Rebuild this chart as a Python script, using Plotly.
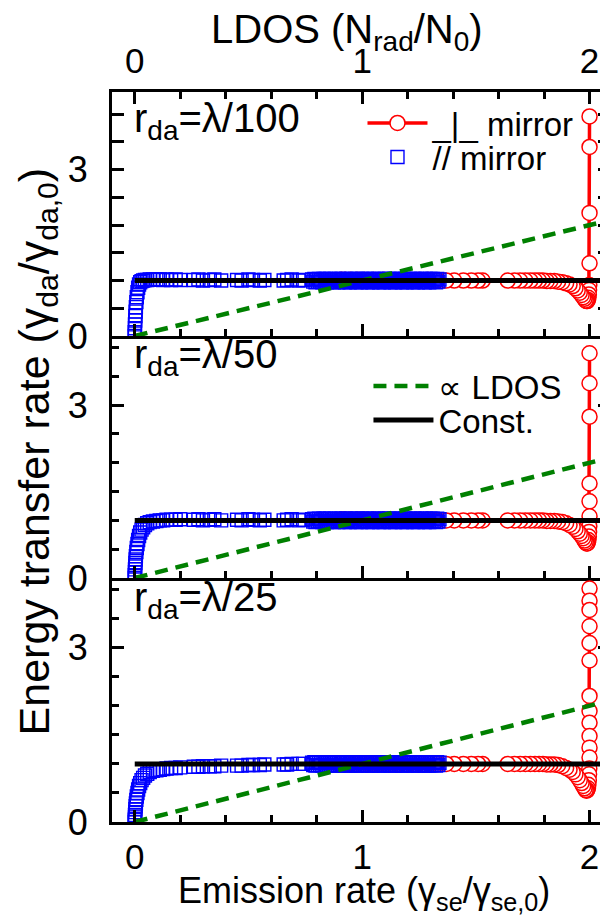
import plotly.graph_objects as go

FONT = "Liberation Sans, Arial, sans-serif"

# ---------------- data ----------------
# Emission rate of the donor (x) for the parallel ("//") mirror orientation
blue_x_near = [0.000, 0.000, 0.001, 0.001, 0.002, 0.003, 0.004, 0.005, 0.007, 0.009,
               0.012, 0.015, 0.019, 0.024, 0.030, 0.037, 0.045, 0.055, 0.066, 0.080,
               0.095, 0.110, 0.125, 0.140, 0.160, 0.180, 0.200,
               0.260, 0.280, 0.300, 0.330, 0.350, 0.380,
               0.450, 0.470, 0.500, 0.520, 0.550, 0.570,
               0.655, 0.670, 0.690, 0.720, 0.740]
blue_y_near_100 = [0.00, 0.07, 0.14, 0.21, 0.28, 0.36, 0.44, 0.52, 0.61, 0.70,
                   0.79, 0.87, 0.93, 0.97, 0.99, 1.00, 1.01, 1.01, 1.02, 1.02,
                   1.02, 1.02, 1.01, 1.02, 1.01, 1.02, 1.01,
                   1.01, 1.02, 1.00, 1.01, 1.02, 1.00,
                   1.01, 1.00, 1.02, 1.01, 1.00, 1.01,
                   1.00, 1.01, 1.02, 1.00, 1.01]
blue_y_near_50 = [0.00, 0.05, 0.10, 0.15, 0.20, 0.26, 0.32, 0.38, 0.45, 0.52,
                  0.59, 0.66, 0.73, 0.79, 0.84, 0.88, 0.92, 0.95, 0.97, 0.98,
                  0.99, 1.00, 1.00, 1.01, 1.01, 1.01, 1.02,
                  1.01, 1.02, 1.00, 1.01, 1.02, 1.00,
                  1.01, 1.00, 1.02, 1.01, 1.00, 1.01,
                  1.00, 1.01, 1.02, 1.00, 1.01]
blue_y_near_25 = [0.00, 0.04, 0.08, 0.12, 0.17, 0.22, 0.27, 0.32, 0.38, 0.44,
                  0.50, 0.56, 0.62, 0.67, 0.72, 0.76, 0.80, 0.83, 0.86, 0.88,
                  0.89, 0.90, 0.91, 0.92, 0.93, 0.93, 0.94,
                  0.95, 0.95, 0.96, 0.96, 0.96, 0.97,
                  0.97, 0.97, 0.98, 0.98, 0.98, 0.99,
                  0.99, 0.99, 1.00, 1.00, 1.00]
blue_x_dense = [0.78, 0.79, 0.80, 0.81, 0.82, 0.83, 0.84, 0.85, 0.86, 0.87,
                0.88, 0.89, 0.90, 0.91, 0.92, 0.93, 0.94, 0.95, 0.96, 0.97,
                0.98, 0.99, 1.00, 1.01, 1.02, 1.03, 1.04, 1.05, 1.06, 1.07,
                1.08, 1.09, 1.10, 1.11, 1.12, 1.13, 1.14, 1.15, 1.16, 1.17,
                1.18, 1.19, 1.20, 1.21, 1.22, 1.23, 1.24, 1.25, 1.26, 1.27,
                1.28, 1.29, 1.30, 1.31, 1.32, 1.33, 1.34,
                1.335, 1.325, 1.315, 1.305, 1.295, 1.285, 1.275, 1.265, 1.255, 1.245,
                1.235, 1.225, 1.215, 1.205, 1.195, 1.185, 1.175, 1.165, 1.155, 1.145,
                1.135, 1.125, 1.115, 1.105, 1.095, 1.085, 1.075, 1.065, 1.055, 1.045,
                1.035, 1.025, 1.015, 1.005, 0.995, 0.985, 0.975, 0.965, 0.955, 0.945,
                0.935, 0.925, 0.915, 0.905, 0.895, 0.885, 0.875, 0.865, 0.855, 0.845,
                0.835, 0.825, 0.815, 0.805, 0.795, 0.785]
blue_y_dense = [1.02, 1.03, 1.02, 1.03, 1.02, 1.03, 1.03, 1.02, 1.03, 1.02,
                1.03, 1.02, 1.03, 1.03, 1.02, 1.03, 1.02, 1.03, 1.02, 1.03,
                1.03, 1.02, 1.03, 1.02, 1.03, 1.03, 1.02, 1.03, 1.02, 1.03,
                1.02, 1.03, 1.03, 1.02, 1.03, 1.02, 1.03, 1.02, 1.03, 1.03,
                1.02, 1.03, 1.02, 1.03, 1.02, 1.03, 1.03, 1.02, 1.03, 1.02,
                1.03, 1.02, 1.03, 1.03, 1.02, 1.03, 1.02,
                0.98, 0.97, 0.98, 0.98, 0.97, 0.98, 0.97, 0.98, 0.98, 0.97,
                0.98, 0.97, 0.98, 0.98, 0.97, 0.98, 0.97, 0.98, 0.98, 0.97,
                0.98, 0.97, 0.98, 0.98, 0.97, 0.98, 0.97, 0.98, 0.98, 0.97,
                0.98, 0.97, 0.98, 0.98, 0.97, 0.98, 0.97, 0.98, 0.98, 0.97,
                0.98, 0.97, 0.98, 0.98, 0.97, 0.98, 0.97, 0.98, 0.98, 0.97,
                0.98, 0.97, 0.98, 0.98, 0.97, 0.98]

# Perpendicular ("_|_") mirror orientation: spike at the mirror, then the tail
red_spike_y_100 = [3.96, 3.41, 2.22, 1.31]
red_spike_x_100 = [2.000, 2.000, 2.000, 2.000]
red_spike_y_50 = [3.90, 3.38, 2.80, 1.64, 1.33, 1.07]
red_spike_x_50 = [2.000, 2.000, 2.000, 2.000, 2.000, 2.000]
red_spike_y_25 = [4.02, 3.81, 3.65, 3.37, 3.08, 2.78, 2.17, 1.91, 1.71, 1.48, 1.28, 1.11]
red_spike_x_25 = [2.000, 2.000, 2.000, 2.000, 2.000, 2.000, 2.000, 2.000, 2.000, 2.000, 2.000, 2.000]

red_dip_x = [1.999, 1.998, 1.997, 1.995, 1.993, 1.990, 1.987, 1.983, 1.978, 1.972,
             1.965, 1.957, 1.948, 1.938, 1.926, 1.912, 1.897, 1.880]
red_dip_y_100 = [0.92, 0.83, 0.75, 0.69, 0.65, 0.63, 0.63, 0.64, 0.67, 0.70,
                 0.74, 0.78, 0.82, 0.86, 0.90, 0.93, 0.95, 0.97]
red_dip_y_50 = [0.90, 0.80, 0.72, 0.66, 0.62, 0.60, 0.60, 0.62, 0.65, 0.69,
                0.73, 0.77, 0.81, 0.85, 0.89, 0.92, 0.95, 0.97]
red_dip_y_25 = [0.92, 0.82, 0.72, 0.64, 0.58, 0.55, 0.54, 0.55, 0.58, 0.62,
                0.67, 0.72, 0.77, 0.82, 0.86, 0.90, 0.93, 0.96]

red_rest_x = [1.862, 1.845, 1.828, 1.812, 1.795, 1.778, 1.760, 1.740, 1.718, 1.695,
              1.670, 1.640, 1.530, 1.510, 1.480, 1.445, 1.405,
              1.370, 1.330, 1.290, 1.250, 1.210, 1.170, 1.130, 1.090, 1.050, 1.010,
              0.975, 0.945, 0.925, 0.912, 0.905, 0.910, 0.925, 0.950, 0.985, 1.025,
              1.065, 1.100, 1.130, 1.150, 1.160, 1.155, 1.135, 1.105, 1.070, 1.035,
              1.005, 0.980, 0.965, 0.960, 0.965, 0.980, 1.000, 1.020, 1.040, 1.050,
              1.052, 1.045, 1.030, 1.015, 1.000]
red_rest_y = [0.98, 0.99, 0.99, 0.99, 1.00, 1.00, 1.00, 1.00, 1.00, 1.00,
              1.00, 1.00, 1.00, 1.00, 1.00, 1.00, 1.00,
              1.00, 1.00, 1.01, 1.01, 1.01, 1.01, 1.01, 1.01, 1.01, 1.01,
              1.01, 1.01, 1.01, 1.01, 1.01, 1.01, 1.01, 1.01, 1.01, 1.00,
              1.00, 1.00, 1.00, 1.00, 1.00, 1.00, 1.00, 1.00, 1.00, 1.00,
              1.00, 1.00, 1.00, 1.00, 1.00, 1.00, 1.00, 1.00, 1.00, 1.00,
              1.00, 1.00, 1.00, 1.00, 1.00]

ldos_x = [0.0, 2.1]
ldos_y = [0.0, 2.1]
const_x = [0.0, 2.1]
const_y = [1.0, 1.0]

panel_labels = ["r<sub>da</sub>=λ/100", "r<sub>da</sub>=λ/50", "r<sub>da</sub>=λ/25"]
x_ticks = [0, 1, 2]
y_ticks = [0, 3]
y_ranges = [[0, 4.4], [0, 4.2], [0, 4.2]]

# ---------------- layout geometry ----------------
W, H = 608, 916
L, R, T, B = 104, 605, 84, 814
SEP1, SEP2 = 328, 570


def px(xp):
    return (xp - L) / (R - L)


def py(yp):
    return (B - yp) / (B - T)


RED = "#ff0000"
BLUE = "#0000ff"
GREEN = "#008000"

fig = go.Figure()

panels = [
    (red_spike_x_100 + red_dip_x + red_rest_x, red_spike_y_100 + red_dip_y_100 + red_rest_y,
     blue_x_near + blue_x_dense, blue_y_near_100 + blue_y_dense),
    (red_spike_x_50 + red_dip_x + red_rest_x, red_spike_y_50 + red_dip_y_50 + red_rest_y,
     blue_x_near + blue_x_dense, blue_y_near_50 + blue_y_dense),
    (red_spike_x_25 + red_dip_x + red_rest_x, red_spike_y_25 + red_dip_y_25 + red_rest_y,
     blue_x_near + blue_x_dense, blue_y_near_25 + blue_y_dense),
]

for i, (rx, ry, bx, by) in enumerate(panels):
    xa = "x" if i == 0 else f"x{i+1}"
    ya = "y" if i == 0 else f"y{i+1}"
    fig.add_trace(go.Scatter(
        x=rx, y=ry, xaxis=xa, yaxis=ya, mode="lines+markers", name="_|_ mirror",
        line=dict(color=RED, width=3.5),
        marker=dict(symbol="circle", size=15, color="white", line=dict(color=RED, width=1.5)),
        showlegend=(i == 0), legend="legend"))
    fig.add_trace(go.Scatter(
        x=bx, y=by, xaxis=xa, yaxis=ya, mode="markers", name="// mirror",
        marker=dict(symbol="square-open", size=13, color=BLUE, line=dict(color=BLUE, width=1.4)),
        showlegend=(i == 0), legend="legend2"))
    fig.add_trace(go.Scatter(
        x=ldos_x, y=ldos_y, xaxis=xa, yaxis=ya, mode="lines", name="∝ LDOS",
        line=dict(color=GREEN, width=4.5, dash="13px,8px"),
        showlegend=(i == 1), legend="legend3"))
    fig.add_trace(go.Scatter(
        x=const_x, y=const_y, xaxis=xa, yaxis=ya, mode="lines", name="Const.",
        line=dict(color="black", width=5),
        showlegend=(i == 1), legend="legend4"))

# invisible carrier so that the top (LDOS) axis is drawn
fig.add_trace(go.Scatter(x=const_x, y=const_y, xaxis="x4", yaxis="y", mode="lines",
                         line=dict(width=0), opacity=0, hoverinfo="skip", showlegend=False))

TICKFONT = dict(family=FONT, size=35, color="black")
xcommon = dict(range=[-0.1, 2.09], tickvals=x_ticks, ticks="inside", ticklen=12, tickwidth=2.5,
               tickcolor="black", showline=True, linewidth=3, linecolor="black", mirror=False,
               showgrid=False, zeroline=False, ticklabelstandoff=2,
               tickfont=TICKFONT,
               minor=dict(dtick=0.2, tick0=0, ticks="inside", ticklen=7, tickwidth=2.5,
                          tickcolor="black", showgrid=False))
ycommon = dict(tickvals=y_ticks, ticks="inside", ticklen=12, tickwidth=2.5, tickcolor="black",
               showline=True, linewidth=3, linecolor="black", mirror="allticks",
               showgrid=False, zeroline=False, ticklabelstandoff=14,
               tickfont=dict(family=FONT, size=36, color="black"),
               minor=dict(dtick=0.5, tick0=0, ticks="inside", ticklen=7, tickwidth=2.5,
                          tickcolor="black", showgrid=False))

LEGFONT = dict(family=FONT, size=33, color="black")


def leg(xp, yp):
    return dict(x=px(xp), y=py(yp), xanchor="left", yanchor="middle",
                bgcolor="rgba(0,0,0,0)", borderwidth=0, tracegroupgap=0, itemwidth=60,
                font=LEGFONT)


fig.update_layout(
    width=W, height=H, autosize=False,
    margin=dict(l=L, r=W - R, t=T, b=H - B, pad=0),
    paper_bgcolor="white", plot_bgcolor="white",
    font=dict(family=FONT, size=30, color="black"),
    xaxis=dict(xcommon, anchor="y", domain=[0, 1], showticklabels=False),
    xaxis2=dict(xcommon, anchor="y2", domain=[0, 1], showticklabels=False),
    xaxis3=dict(xcommon, anchor="y3", domain=[0, 1], showticklabels=True),
    xaxis4=dict(xcommon, overlaying="x", side="top", anchor="y", showticklabels=True),
    yaxis=dict(ycommon, anchor="x", domain=[py(SEP1), 1], range=y_ranges[0]),
    yaxis2=dict(ycommon, anchor="x2", domain=[py(SEP2), py(SEP1)], range=y_ranges[1]),
    yaxis3=dict(ycommon, anchor="x3", domain=[0, py(SEP2)], range=y_ranges[2]),
    legend=leg(356, 115),
    legend2=leg(356, 149),
    legend3=leg(362, 378),
    legend4=leg(362, 412),
)

annos = [
    dict(text="Energy transfer rate (γ<sub>da</sub>/γ<sub>da,0</sub>)", x=px(29), y=py(443),
         textangle=-90, font=dict(size=43)),
    dict(text="Emission rate (γ<sub>se</sub>/γ<sub>se,0</sub>)", x=px(358), y=py(885),
         font=dict(size=36)),
    dict(text="LDOS (N<sub>rad</sub>/N<sub>0</sub>)", x=px(340), y=py(24),
         font=dict(size=40)),
    dict(text=panel_labels[0], x=px(124), y=py(113), xanchor="left", font=dict(size=40)),
    dict(text=panel_labels[1], x=px(124), y=py(349), xanchor="left", font=dict(size=40)),
    dict(text=panel_labels[2], x=px(124), y=py(592), xanchor="left", font=dict(size=40)),
]
for a in annos:
    a.setdefault("xanchor", "center")
    a.setdefault("yanchor", "middle")
    a.update(xref="paper", yref="paper", showarrow=False)
    a["font"] = dict(family=FONT, color="black", **a["font"])
fig.update_layout(annotations=annos)

fig.write_html("out.html")
